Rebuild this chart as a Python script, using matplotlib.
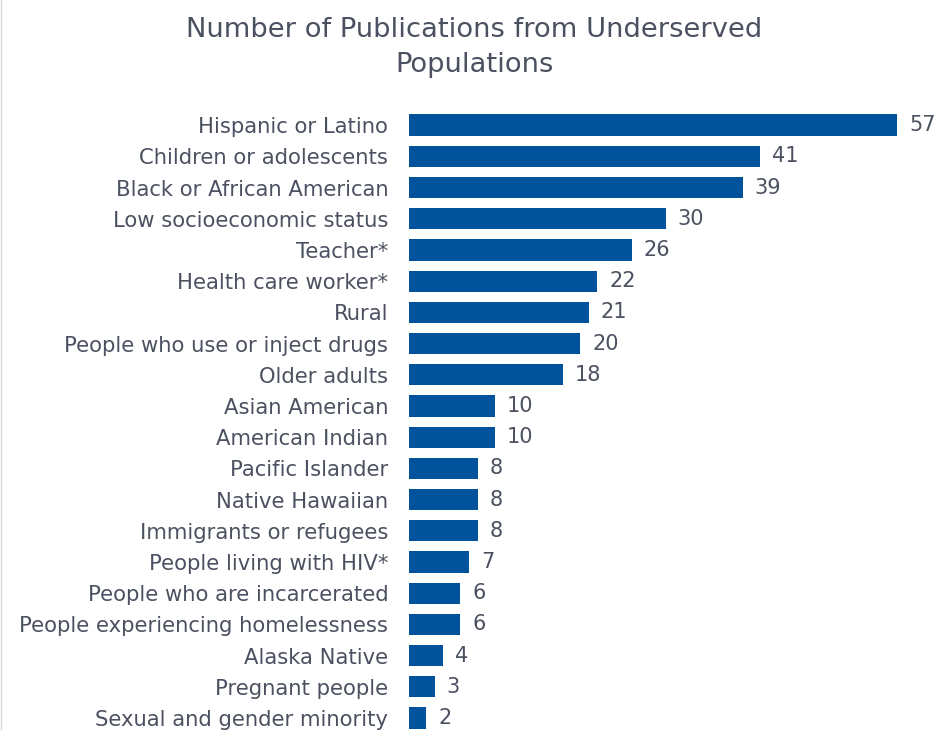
import matplotlib
matplotlib.use('Agg')
import matplotlib.pyplot as plt
import numpy as np

# --- データ ---
categories = [
    'Hispanic or Latino', 'Children or adolescents', 'Black or African American',
    'Low socioeconomic status', 'Teacher*', 'Health care worker*', 'Rural',
    'People who use or inject drugs', 'Older adults', 'Asian American',
    'American Indian', 'Pacific Islander', 'Native Hawaiian',
    'Immigrants or refugees', 'People living with HIV*',
    'People who are incarcerated', 'People experiencing homelessness',
    'Alaska Native', 'Pregnant people', 'Sexual and gender minority',
]
counts = [57, 41, 39, 30, 26, 22, 21, 20, 18, 10, 10, 8, 8, 8, 7, 6, 6, 4, 3, 2]

BAR_COLOR = '#00529b'
TEXT_COLOR = '#4b5160'

plt.rcParams['font.family'] = ['DejaVu Sans']

fig = plt.figure(figsize=(9.39, 7.30), dpi=100)
ax = fig.add_axes([0.4356, -0.005, 0.547, 0.855])

y = np.arange(len(categories))
ax.barh(y, counts, height=0.68, color=BAR_COLOR)

for yi, v in zip(y, counts):
    ax.text(v + 1.4, yi, str(v), va='center', ha='left', fontsize=15, color=TEXT_COLOR)

ax.set_yticks(y)
ax.set_yticklabels(categories, fontsize=15.2, color=TEXT_COLOR)
ax.set_ylim(len(categories) - 0.5, -0.5)
ax.set_xlim(0, 60)
ax.set_xticks([])
ax.tick_params(axis='y', length=0, pad=15)
for s in ax.spines.values():
    s.set_visible(False)

fig.text(0.505, 0.977, 'Number of Publications from Underserved\nPopulations',
         ha='center', va='top', fontsize=19.7, color=TEXT_COLOR, linespacing=1.45)

# 左端の薄い枠線
fig.add_artist(plt.Line2D([0.001, 0.001], [0, 1], color='#d9d9d9', lw=1))

fig.savefig('out.png', dpi=100)
